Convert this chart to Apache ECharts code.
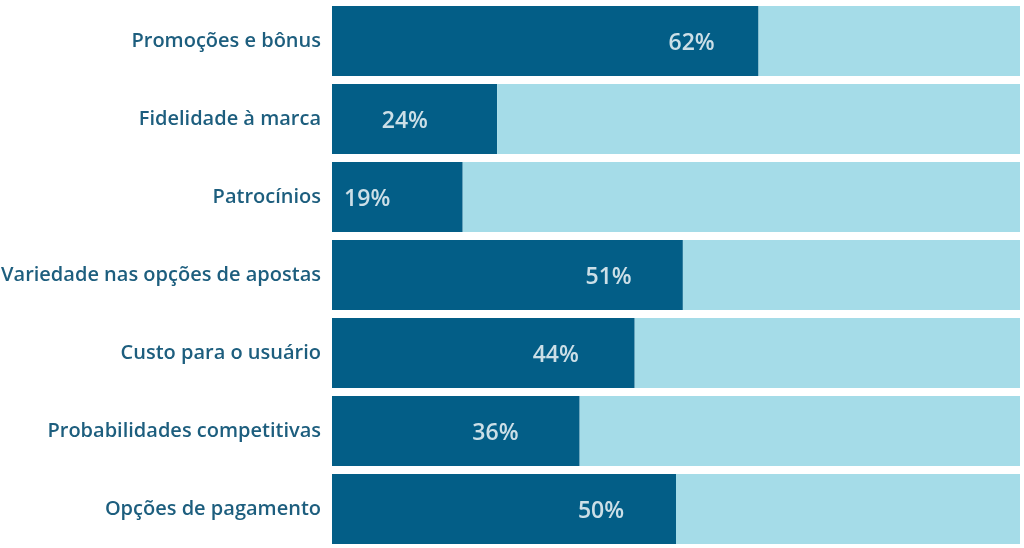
<!DOCTYPE html>
<html>
<head>
<meta charset="utf-8">
<script src="https://cdn.jsdelivr.net/npm/echarts@6/dist/echarts.min.js"></script>
<style>
html,body{margin:0;padding:0;background:#fff;}
#chart{width:1024px;height:548px;}
</style>
</head>
<body>
<div id="chart"></div>
<script>
const categories = [
  'Promoções e bônus',
  'Fidelidade à marca',
  'Patrocínios',
  'Variedade nas opções de apostas',
  'Custo para o usuário',
  'Probabilidades competitivas',
  'Opções de pagamento'
];
const values = [62, 24, 19, 51, 44, 36, 50];
const total = 100;
const remainder = values.map(v => total - v);

const dark = '#035E87';
const light = '#A5DCE8';

const chart = echarts.init(document.getElementById('chart'));
chart.setOption({
  animation: false,
  grid: { left: 332, right: 4, top: 2, bottom: 0, containLabel: false, outerBoundsMode: 'none' },
  xAxis: [
    { type: 'value', min: 0, max: total, show: false },
    { type: 'value', min: 14.34, max: 105.53, show: false }
  ],
  yAxis: {
    type: 'category',
    data: categories,
    inverse: true,
    axisLine: { show: false },
    axisTick: { show: false },
    axisLabel: {
      margin: 11,
      color: '#1D5E7E',
      fontFamily: 'Open Sans',
      fontWeight: 600,
      fontSize: 20,
      padding: [3, 0, 0, 0]
    }
  },
  series: [
    {
      type: 'bar',
      stack: 'total',
      xAxisIndex: 0,
      data: values,
      barWidth: 70,
      itemStyle: { color: dark },
      silent: true
    },
    {
      type: 'bar',
      stack: 'total',
      xAxisIndex: 0,
      data: remainder,
      barWidth: 70,
      itemStyle: { color: light },
      silent: true
    },
    {
      type: 'scatter',
      xAxisIndex: 1,
      data: values.map((v, i) => [v, i]),
      symbolSize: 0,
      silent: true,
      label: {
        show: true,
        position: 'inside',
        offset: [0, 2],
        formatter: p => p.value[0] + '%',
        color: '#ffffff',
        fontFamily: 'Open Sans',
        fontWeight: 600,
        fontSize: 23
      }
    }
  ]
});
</script>
</body>
</html>
